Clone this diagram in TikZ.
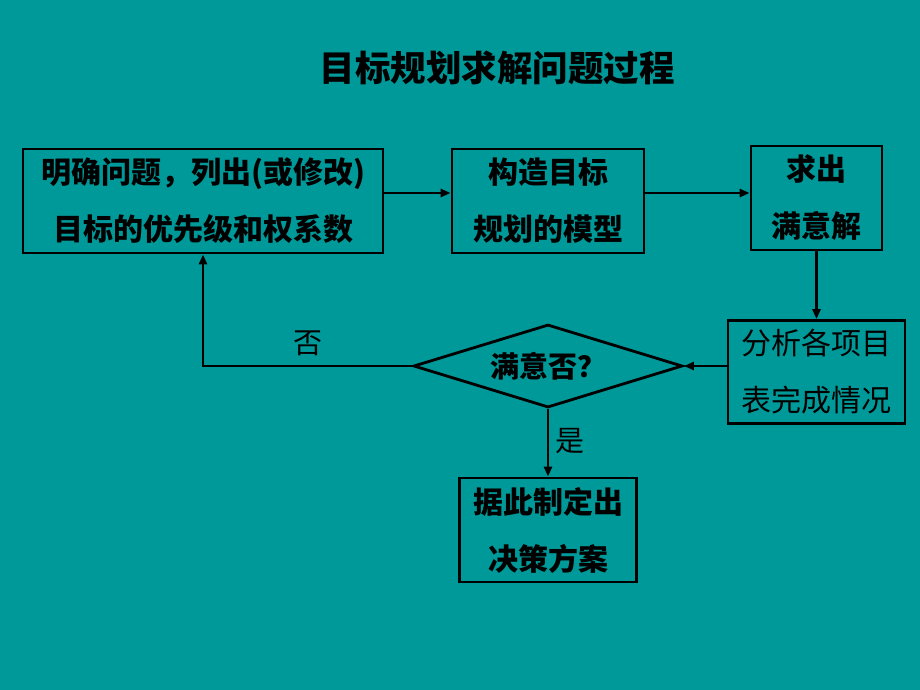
\documentclass[tikz,border=0pt]{standalone}
\usepackage{fontspec}
\newfontfamily\cjk{Noto Sans CJK SC}
\usetikzlibrary{shapes.geometric,arrows.meta}
\definecolor{bg}{RGB}{0,153,153}
\begin{document}
\begin{tikzpicture}[x=1pt,y=-1pt,
  box/.style={draw=black,line width=2.8pt,inner sep=0pt,align=center,
    font=\cjk\bfseries\fontsize{30}{57}\selectfont},
  plainbox/.style={box,font=\cjk\fontsize{30}{57}\selectfont},
  dec/.style={draw=black,line width=2.8pt,shape=diamond,inner sep=0pt,aspect=3.24,
    minimum width=269pt,minimum height=83pt,font=\cjk\bfseries\fontsize{29}{34}\selectfont},
  lbl/.style={font=\cjk\fontsize{29}{34}\selectfont,inner sep=0pt},
  arr/.style={line width=2.8pt,-{Triangle[length=10pt,width=8pt]}},
  ttl/.style={font=\cjk\bfseries\fontsize{35.5}{40}\selectfont,inner sep=0pt}]
\fill[bg] (0,0) rectangle (920,690);
\useasboundingbox (0,0) rectangle (920,690);

\node[ttl] (title) at (497,68) {目标规划求解问题过程};

\node[box,minimum width=360pt,minimum height=104pt] (b1) at (203,201)
  {明确问题，列出(或修改)\\目标的优先级和权系数};
\node[box,minimum width=192pt,minimum height=104pt] (b2) at (548,201)
  {构造目标\\规划的模型};
\node[box,minimum width=131pt,minimum height=104pt] (b3) at (816.5,198)
  {求出\\满意解};
\node[plainbox,minimum width=177pt,minimum height=103pt] (b4) at (816.5,372)
  {分析各项目\\表完成情况};
\node[dec] (d) at (548,366) {满意否？};
\node[box,minimum width=177pt,minimum height=104pt] (b5) at (548,530)
  {据此制定出\\决策方案};

\draw[arr] ([yshift=8pt]b1.east) -- ([yshift=8pt]b1.east -| b2.west);
\draw[arr] ([yshift=8pt]b2.east) -- ([yshift=8pt]b2.east -| b3.west);
\draw[arr] (b3.south) -- (b4.north);
\draw[arr] (b4.west |- d.east) -- (d.east);
\draw[arr] (d.west) -| (b1.south);
\draw[arr] (d.south) -- (b5.north);

\node[lbl] (no) at (308,343) {否};
\node[lbl] (yes) at (570,441) {是};
\end{tikzpicture}
\end{document}
